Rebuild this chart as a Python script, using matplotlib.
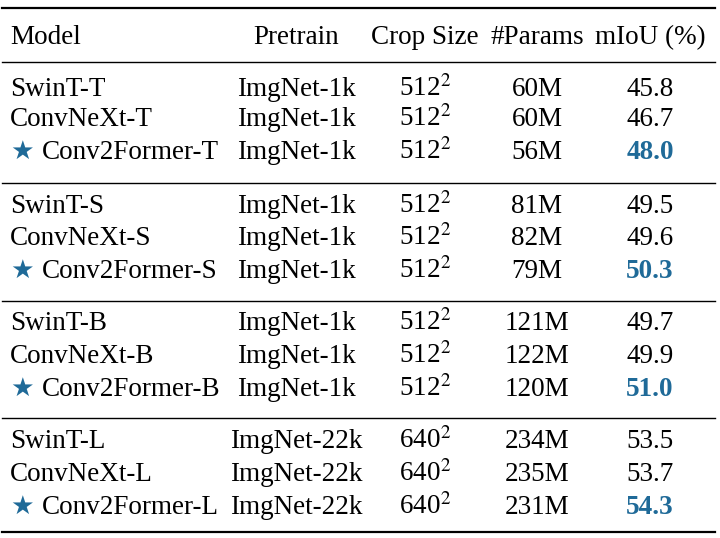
import matplotlib
matplotlib.use("Agg")
import matplotlib.pyplot as plt

plt.rcParams['font.family'] = ['Liberation Serif', 'DejaVu Sans']
plt.rcParams['mathtext.fontset'] = 'stix'

headers = ["Model", "Pretrain", "Crop Size", "#Params", "mIoU (%)"]
models = ["SwinT-T", "ConvNeXt-T", "Conv2Former-T",
          "SwinT-S", "ConvNeXt-S", "Conv2Former-S",
          "SwinT-B", "ConvNeXt-B", "Conv2Former-B",
          "SwinT-L", "ConvNeXt-L", "Conv2Former-L"]
pretrain = ["ImgNet-1k"] * 9 + ["ImgNet-22k"] * 3
crop = ["512"] * 9 + ["640"] * 3
params = ["60M", "60M", "56M", "81M", "82M", "79M", "121M", "122M", "120M", "234M", "235M", "231M"]
miou = ["45.8", "46.7", "48.0", "49.5", "49.6", "50.3", "49.7", "49.9", "51.0", "53.5", "53.7", "54.3"]
ours = [False, False, True] * 4

W, H = 720, 538
fig = plt.figure(figsize=(7.2, 5.38), dpi=100)
ax = fig.add_axes([0, 0, 1, 1])
ax.set_xlim(0, W); ax.set_ylim(H, 0); ax.axis('off')
blue = '#1f6a98'
fs = 19.5
off = 8

hy = 36
ax.text(10, hy + off, headers[0], fontsize=fs, va='baseline', ha='left')
cx = [296, 425, 537, 650]
for x, h in zip(cx, headers[1:]):
    ax.text(x, hy + off, h, fontsize=fs, va='baseline', ha='center')

ys = [88, 118, 151, 205, 237, 270, 322, 355, 388, 440, 473, 506]
for i, y in enumerate(ys):
    b = y + off
    if ours[i]:
        ax.text(10, b, "★", fontsize=19, va='baseline', ha='left', color=blue, family='DejaVu Sans')
        ax.text(42, b, models[i], fontsize=fs, va='baseline', ha='left')
    else:
        ax.text(10, b, models[i], fontsize=fs, va='baseline', ha='left')
    ax.text(cx[0], b, pretrain[i], fontsize=fs, va='baseline', ha='center')
    ax.text(cx[1], b, crop[i] + "$^2$", fontsize=fs, va='baseline', ha='center')
    ax.text(cx[2], b, params[i], fontsize=fs, va='baseline', ha='center')
    ax.text(cx[3], b, miou[i], fontsize=fs, va='baseline', ha='center',
            color=blue if ours[i] else 'black', weight='bold' if ours[i] else 'normal')

for y, lw in [(8, 1.6), (62, 1.0), (183, 1.0), (301, 1.0), (418, 1.0), (532, 1.6)]:
    ax.plot([2, 715], [y, y], color='black', lw=lw)

fig.savefig("out.png", dpi=100, facecolor='white')
